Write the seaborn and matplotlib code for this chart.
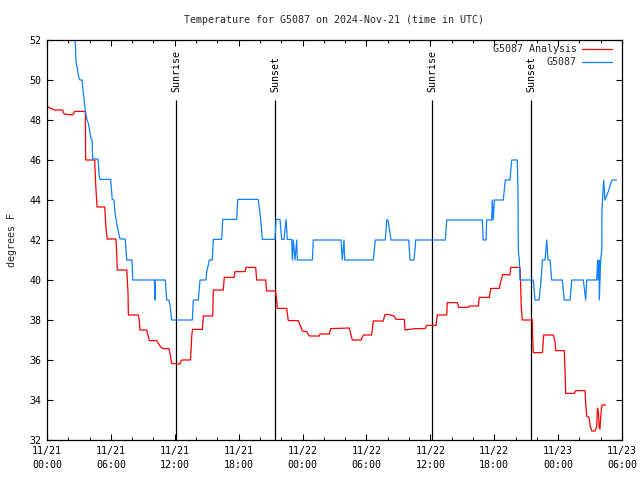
import pandas as pd
import numpy as np

import seaborn as sns
import matplotlib.pyplot as plt
import matplotlib.dates as mdates
from matplotlib.lines import Line2D

# hours since 2024-11-21 00:00 UTC, values in degrees F
analysis_hours = [0.00, 0.44, 0.66, 1.47, 1.60, 2.41, 2.60, 3.60, 3.63, 4.48,
                  4.57, 4.70, 5.42, 5.54, 5.66, 6.48, 6.55, 6.60, 7.49, 7.61,
                  7.64, 8.57, 8.67, 8.73, 9.36, 9.51, 9.61, 10.30, 10.61, 10.87,
                  11.46, 11.55, 11.71, 12.49, 12.63, 13.48, 13.59, 13.66, 14.59, 14.68,
                  15.56, 15.62, 16.56, 16.65, 17.56, 17.66, 18.60, 18.69, 19.60, 19.69,
                  20.54, 20.63, 21.46, 21.57, 21.63, 22.51, 22.66, 23.60, 23.83, 23.98,
                  24.39, 24.63, 25.57, 25.64, 26.51, 26.64, 28.39, 28.52, 28.67, 29.49,
                  29.71, 30.49, 30.64, 31.58, 31.74, 32.05, 32.59, 32.78, 33.56, 33.62,
                  34.59, 35.50, 35.66, 36.53, 36.65, 37.54, 37.59, 38.53, 38.67, 39.57,
                  39.66, 40.51, 40.60, 41.54, 41.67, 42.48, 42.61, 42.80, 43.48, 43.55,
                  44.42, 44.47, 44.54, 44.64, 45.58, 45.60, 45.67, 46.52, 46.65, 47.55,
                  47.71, 47.77, 48.58, 48.65, 48.71, 49.52, 49.65, 50.53, 50.59, 50.68,
                  50.90, 51.02, 51.18, 51.46, 51.62, 51.70, 51.79, 51.86, 51.93, 52.00,
                  52.10, 52.15, 52.47]
analysis_temp = [48.67, 48.57, 48.50, 48.50, 48.30, 48.25, 48.43, 48.43, 46.00, 46.00,
                 44.80, 43.65, 43.65, 42.60, 42.05, 42.05, 41.25, 40.50, 40.50, 39.33,
                 38.25, 38.25, 38.00, 37.50, 37.50, 37.17, 36.97, 36.97, 36.70, 36.57,
                 36.57, 36.33, 35.83, 35.80, 36.00, 36.00, 37.17, 37.53, 37.53, 38.20,
                 38.20, 39.50, 39.50, 40.13, 40.13, 40.42, 40.42, 40.63, 40.63, 40.00,
                 40.00, 39.45, 39.45, 39.00, 38.58, 38.58, 37.97, 37.97, 37.67, 37.45,
                 37.42, 37.20, 37.20, 37.30, 37.30, 37.57, 37.60, 37.33, 37.00, 37.00,
                 37.25, 37.25, 37.95, 37.95, 38.27, 38.28, 38.20, 38.03, 38.03, 37.50,
                 37.57, 37.57, 37.73, 37.73, 38.25, 38.25, 38.87, 38.87, 38.63, 38.63,
                 38.70, 38.70, 39.13, 39.13, 39.58, 39.58, 39.92, 40.28, 40.25, 40.63,
                 40.63, 40.00, 38.67, 38.00, 38.00, 37.25, 36.37, 36.37, 37.25, 37.25,
                 36.92, 36.47, 36.47, 35.42, 34.33, 34.33, 34.47, 34.47, 33.83, 33.20,
                 33.13, 32.67, 32.45, 32.45, 32.67, 33.60, 33.33, 32.60, 32.55, 33.17,
                 33.70, 33.75, 33.75]

obs_hours = [2.62, 2.63, 2.68, 2.72, 2.82, 2.91, 3.01, 3.10, 3.29, 3.38,
             3.47, 3.57, 3.73, 3.88, 3.97, 4.04, 4.13, 4.23, 4.29, 4.79,
             4.88, 4.98, 5.98, 6.04, 6.13, 6.29, 6.39, 6.48, 6.55, 6.64,
             6.73, 6.86, 7.35, 7.42, 7.49, 7.98, 8.05, 10.08, 10.14, 10.17,
             11.11, 11.24, 11.43, 11.55, 11.71, 13.65, 13.74, 14.21, 14.37, 14.93,
             15.00, 15.15, 15.24, 15.52, 15.62, 16.41, 16.50, 17.82, 17.91, 19.84,
             20.07, 20.22, 21.41, 21.51, 21.88, 22.04, 22.26, 22.45, 22.57, 22.98,
             23.04, 23.13, 23.29, 23.45, 23.51, 23.92, 24.92, 25.01, 27.61, 27.73,
             27.89, 27.96, 30.64, 30.83, 31.77, 31.90, 32.02, 32.31, 33.97, 34.09,
             34.47, 34.63, 37.41, 37.54, 40.88, 40.97, 41.23, 41.29, 41.76, 41.82,
             41.91, 42.01, 42.85, 43.04, 43.48, 43.64, 44.17, 44.23, 44.26, 44.36,
             44.42, 45.67, 45.83, 46.21, 46.40, 46.52, 46.77, 46.93, 47.05, 47.24,
             47.40, 48.39, 48.58, 49.12, 49.28, 50.37, 50.59, 50.69, 51.62, 51.72,
             51.77, 51.84, 51.87, 52.00, 52.10, 52.12, 52.28, 52.40, 52.71, 53.03,
             53.18, 53.50]
obs_temp = [52.5, 52.0, 51.58, 50.92, 50.67, 50.33, 50.08, 50.0, 50.0, 49.5,
            49.1, 48.58, 48.05, 47.83, 47.58, 47.33, 47.08, 47.03, 46.05, 46.05,
            45.33, 45.03, 45.03, 44.58, 44.03, 44.0, 43.33, 43.08, 42.83, 42.58,
            42.33, 42.05, 42.05, 41.5, 41.0, 41.0, 40.0, 40.0, 39.0, 40.0,
            40.0, 39.0, 39.0, 38.75, 38.0, 38.0, 39.0, 39.0, 40.0, 40.0,
            40.42, 40.75, 41.0, 41.0, 42.03, 42.03, 43.03, 43.03, 44.03, 44.03,
            43.03, 42.03, 42.03, 43.03, 43.03, 42.03, 42.03, 43.03, 42.03, 42.03,
            41.0, 42.0, 41.0, 42.0, 41.0, 41.0, 41.0, 42.0, 42.0, 41.0,
            42.0, 41.0, 41.0, 42.0, 42.0, 43.0, 43.0, 42.0, 42.0, 41.0,
            41.0, 42.0, 42.0, 43.0, 43.0, 42.0, 42.0, 43.0, 43.0, 44.0,
            43.0, 44.0, 44.0, 45.0, 45.0, 46.0, 46.0, 44.5, 41.5, 41.0,
            40.0, 40.0, 39.0, 39.0, 40.0, 41.0, 41.0, 42.0, 41.0, 41.0,
            40.0, 40.0, 39.0, 39.0, 40.0, 40.0, 39.0, 40.0, 40.0, 41.0,
            40.0, 41.0, 39.0, 41.0, 41.5, 43.5, 45.0, 44.0, 44.42, 44.97,
            45.0, 45.0]

sun_hours = [12.14, 21.41, 36.17, 45.48]
sun_labels = ["Sunrise", "Sunset", "Sunrise", "Sunset"]

series_labels = ["G5087 Analysis", "G5087"]
series_colors = ["#ff0000", "#1080ff"]

start = pd.Timestamp("2024-11-21 00:00")
end = pd.Timestamp("2024-11-23 06:00")
to_time = lambda h: start + pd.to_timedelta(np.array(h), unit="h")

df_an = pd.DataFrame({"time": to_time(analysis_hours), "temp": analysis_temp})
df_obs = pd.DataFrame({"time": to_time(obs_hours), "temp": obs_temp})

sns.set_theme(style="white")
plt.rcParams["font.family"] = ["DejaVu Sans Mono"]
plt.rcParams["font.size"] = 7.2

fig = plt.figure(figsize=(6.4, 4.8), dpi=100)
ax = fig.add_axes([47 / 640, 40 / 480, 575 / 640, 400 / 480])

for h, lab in zip(sun_hours, sun_labels):
    t = to_time([h])[0]
    ax.vlines(t, 32, 49, color="black", lw=0.9)
    ax.text(t, 49.4, lab, rotation=90, ha="center", va="bottom", color="black")

sns.lineplot(data=df_an, x="time", y="temp", sort=False, estimator=None,
             color=series_colors[0], lw=0.9, ax=ax, legend=False)
sns.lineplot(data=df_obs, x="time", y="temp", sort=False, estimator=None,
             color=series_colors[1], lw=0.9, ax=ax, legend=False)

ax.set_xlim(start, end)
ax.set_ylim(32, 52)
ax.set_yticks(range(32, 53, 2))
major = pd.date_range(start, end, freq="6h")
ax.set_xticks(major)
ax.set_xticklabels([t.strftime("%m/%d\n%H:%M") for t in major], linespacing=1.5)
ax.xaxis.set_minor_locator(mdates.HourLocator(byhour=range(0, 24, 2)))
ax.tick_params(which="major", direction="in", length=4, width=0.8,
               top=True, right=True, bottom=True, left=True,
               labelsize=7.2, pad=4, colors="black")
ax.tick_params(which="minor", direction="in", length=2, width=0.8,
               top=True, bottom=True)
for s in ax.spines.values():
    s.set_color("black")
    s.set_linewidth(0.9)

ax.set_xlabel("")
ax.set_ylabel("")
fig.text(12 / 640, 0.5, "degrees F", rotation=90, ha="center", va="center")
ax.text(0.5, 1 + 20 / 400, "Temperature for G5087 on 2024-Nov-21 (time in UTC)",
        transform=ax.transAxes, ha="center", va="center")

# gnuplot-style key: right-aligned text, line sample to the right
for i, (lab, col) in enumerate(zip(series_labels, series_colors)):
    y = 1 - (9 + 13 * i) / 400
    ax.text(0.9217, y, lab, transform=ax.transAxes, ha="right", va="center")
    ax.add_line(Line2D([0.9304, 0.9826], [y, y], transform=ax.transAxes,
                       color=col, lw=0.9))

fig.savefig("out.png", dpi=100)
